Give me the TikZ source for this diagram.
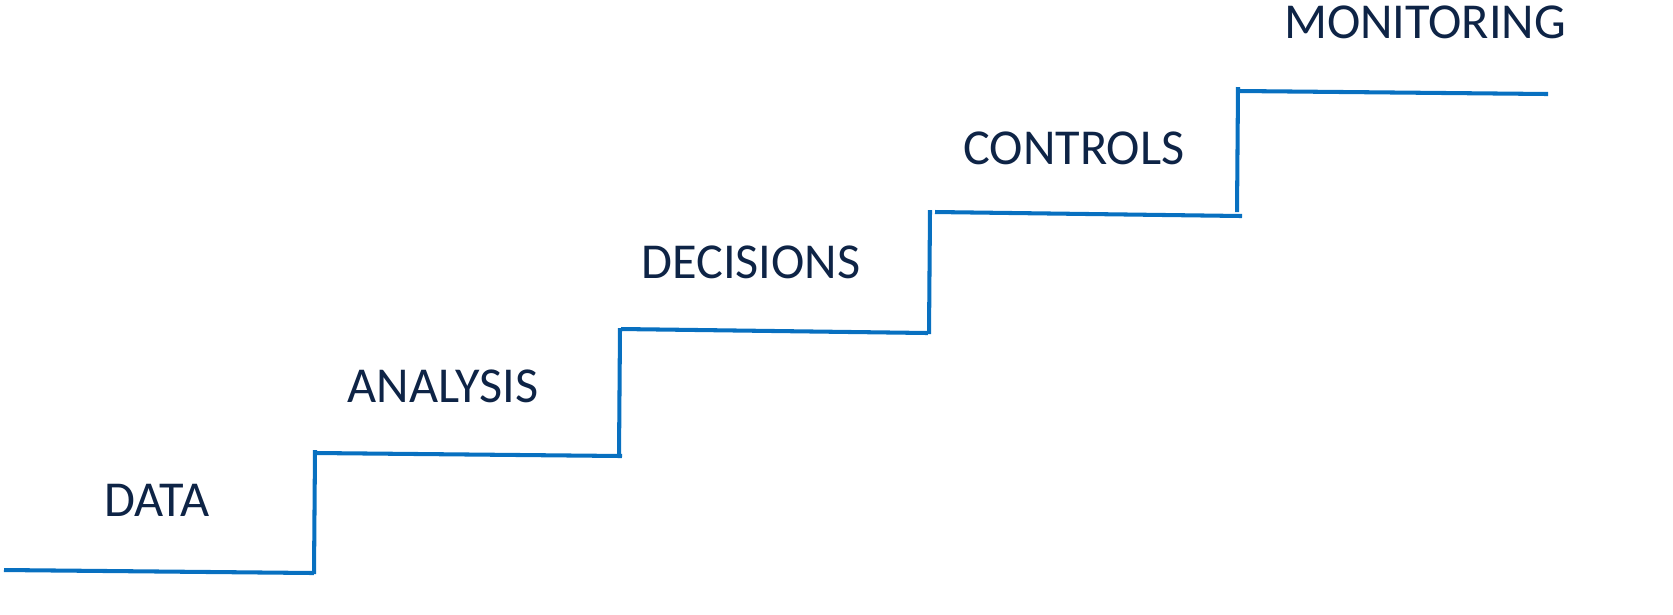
\documentclass[tikz,border=0pt]{standalone}
\usepackage{fontspec}
\setmainfont{Carlito}
\definecolor{stairblue}{HTML}{0870C0}
\definecolor{labelnavy}{HTML}{0E2446}
\tikzset{
  stair/.style={line width=1.15pt, stairblue},
  steplabel/.style={inner sep=0pt, text=labelnavy, font=\fontsize{14.3pt}{16pt}\selectfont}
}
\begin{document}
\begin{tikzpicture}[x=0.01cm,y=-0.01cm]
\useasboundingbox (0,0) rectangle (1673,614);
\coordinate (s0a) at (4,570);
\coordinate (s0b) at (314,573);
\coordinate (r1a) at (315,450);
\coordinate (r1b) at (314,574);
\coordinate (s1a) at (316,453);
\coordinate (s1b) at (622,456);
\coordinate (r2a) at (620,328);
\coordinate (r2b) at (619,456);
\coordinate (s2a) at (621,329);
\coordinate (s2b) at (928,333);
\coordinate (r3a) at (930,210);
\coordinate (r3b) at (929,334);
\coordinate (s3a) at (935,212);
\coordinate (s3b) at (1242,216);
\coordinate (r4a) at (1238,87);
\coordinate (r4b) at (1237,212);
\coordinate (s4a) at (1240,91);
\coordinate (s4b) at (1548,94);
\draw[stair](s0a) -- (s0b);
\draw[stair](r1a) -- (r1b);
\draw[stair](s1a) -- (s1b);
\draw[stair](r2a) -- (r2b);
\draw[stair](s2a) -- (s2b);
\draw[stair](r3a) -- (r3b);
\draw[stair](s3a) -- (s3b);
\draw[stair](r4a) -- (r4b);
\draw[stair](s4a) -- (s4b);
\node[steplabel] (data) at (157,500){DATA};
\node[steplabel] (analysis) at (443,386){ANALYSIS};
\node[steplabel] (decisions) at (751,262){DECISIONS};
\node[steplabel] (controls) at (1074,148){CONTROLS};
\node[steplabel] (monitoring) at (1425,22){MONITORING};
\end{tikzpicture}
\end{document}
